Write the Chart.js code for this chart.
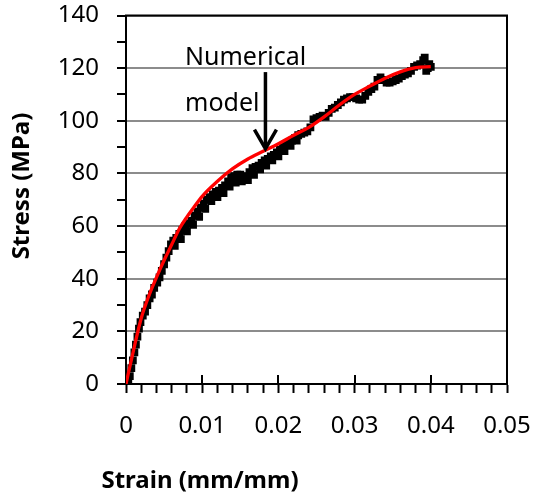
<!DOCTYPE html>
<html>
<head>
<meta charset="utf-8">
<script src="https://cdn.jsdelivr.net/npm/chart.js@4.4.0/dist/chart.umd.min.js"></script>
<style>
  html, body { margin: 0; padding: 0; background: #fff; }
  #wrap { width: 533px; height: 497px; }
</style>
</head>
<body>
<div id="wrap"><canvas id="myChart" width="533" height="497"></canvas></div>
<script>
// numerical model (red line)
const modelStrain = [0, 0.001, 0.002, 0.003, 0.004, 0.005, 0.006, 0.007, 0.008, 0.009, 0.010,
  0.012, 0.014, 0.016, 0.018, 0.020, 0.022, 0.024, 0.026, 0.028, 0.030,
  0.032, 0.034, 0.036, 0.038, 0.040];
const modelStress = [0, 13, 25, 33.5, 40.5, 47, 53, 59, 63.5, 67.5, 71.3,
  77, 81.8, 85.5, 88.4, 91.3, 94.5, 97.5, 101.5, 106, 110,
  113.2, 116.2, 118.6, 120.2, 120.6];

// experiment (black squares)
const expStrain = [0.0003, 0.0005, 0.0007, 0.0009, 0.0011, 0.0013, 0.0015, 0.0017, 0.0019, 0.0022,
  0.0025, 0.0028, 0.0031, 0.0034, 0.0037, 0.0041, 0.0044, 0.0047, 0.0050, 0.0053,
  0.0056, 0.0059, 0.0062, 0.0064, 0.0066, 0.0070, 0.0072, 0.0074, 0.0078, 0.0080,
  0.0082, 0.0086, 0.0088, 0.0090, 0.0094, 0.0096, 0.0098, 0.0102, 0.0104, 0.0106,
  0.0110, 0.0112, 0.0114, 0.0118, 0.0120, 0.0122, 0.0126, 0.0128, 0.0130, 0.0134,
  0.0136, 0.0138, 0.0142, 0.0144, 0.0146, 0.0150, 0.0152, 0.0154, 0.0158, 0.0160,
  0.0162, 0.0166, 0.0168, 0.0170, 0.0174, 0.0176, 0.0178, 0.0182, 0.0184, 0.0186,
  0.0190, 0.0192, 0.0194, 0.0198, 0.0200, 0.0202, 0.0206, 0.0208, 0.0210, 0.0214,
  0.0216, 0.0218, 0.0222, 0.0224, 0.0226, 0.0230, 0.0234, 0.0238, 0.0242, 0.0246,
  0.0250, 0.0254, 0.0258, 0.0262, 0.0266, 0.0270, 0.0274, 0.0278, 0.0282, 0.0286,
  0.0290, 0.0294, 0.0298, 0.0302, 0.0306, 0.0310, 0.0314, 0.0318, 0.0322, 0.0326,
  0.0330, 0.0334, 0.0338, 0.0342, 0.0346, 0.0350, 0.0354, 0.0358, 0.0362, 0.0366,
  0.0370, 0.0374, 0.0378, 0.0382, 0.0386, 0.0390, 0.0392, 0.0394, 0.0396, 0.0398,
  0.0400];
const expStress = [0, 3, 6, 9, 12, 15, 18, 21, 23.5, 26,
  27.5, 30, 32.5, 34, 36.5, 38.5, 40.5, 43, 45.5, 48,
  50.5, 53, 54.5, 52.5, 55.5, 57, 55, 58.5, 60, 58,
  61, 62, 60.5, 64, 65.5, 63.5, 67, 68.5, 66.5, 70,
  71, 69.5, 72, 73, 71, 73.5, 74.5, 72.5, 75.5, 77,
  75, 78.5, 79, 76.5, 79.5, 79.5, 77, 78.5, 79, 77.5,
  80.5, 82, 79.5, 82.5, 83, 81.5, 84, 85, 83, 85.5,
  86.5, 85, 87, 88, 86.5, 89, 90, 88.5, 91, 91.5,
  90.5, 92.5, 93.5, 92.5, 94.5, 95, 95.5, 96, 97.5, 100.5,
  101, 101.5, 102, 101.5, 103, 104.5, 105, 106, 107, 108,
  108.5, 109, 109, 108.5, 108, 108, 109.5, 111, 112, 113,
  115.5, 116.5, 115.5, 114.5, 114.5, 115, 115.5, 116, 117, 117.5,
  118, 119, 120.5, 121, 121.5, 123, 124, 119, 120, 121.5,
  120.5];

// annotation: text and arrow (in data units)
const noteLines = ['Numerical', 'model'];
const arrowStrain = 0.0183;
const arrowFrom = 118.5;
const arrowTo = 89;

const xTitle = 'Strain (mm/mm)';
const yTitle = 'Stress (MPa)';

const FONT = '"Noto Sans", "Open Sans", sans-serif';

const extras = {
  id: 'extras',
  beforeDatasetsDraw(chart) {
    const { ctx, chartArea: a, scales } = chart;
    ctx.save();
    // upper half of the major x ticks
    ctx.strokeStyle = '#000';
    ctx.lineWidth = 2;
    for (let v = 0.01; v < 0.0501; v += 0.01) {
      const px = Math.round(scales.x.getPixelForValue(v));
      ctx.beginPath();
      ctx.moveTo(px, a.bottom);
      ctx.lineTo(px, a.bottom - 9);
      ctx.stroke();
    }
    // frame
    ctx.strokeRect(a.left, a.top, a.right - a.left, a.bottom - a.top);
    ctx.restore();
  },
  afterDraw(chart) {
    const { ctx, scales } = chart;
    ctx.save();
    // note text
    ctx.fillStyle = '#000';
    ctx.font = '25px ' + FONT;
    ctx.textAlign = 'left';
    ctx.textBaseline = 'alphabetic';
    ctx.fillText(noteLines[0], 185, 65);
    ctx.fillText(noteLines[1], 185, 111);
    // arrow
    const ax = scales.x.getPixelForValue(arrowStrain);
    const y0 = scales.y.getPixelForValue(arrowFrom);
    const y1 = scales.y.getPixelForValue(arrowTo);
    ctx.strokeStyle = '#000';
    ctx.lineWidth = 3.5;
    ctx.beginPath();
    ctx.moveTo(ax, y0);
    ctx.lineTo(ax, y1 - 2);
    ctx.stroke();
    ctx.beginPath();
    ctx.moveTo(ax - 11, y1 - 20);
    ctx.lineTo(ax, y1 - 1);
    ctx.lineTo(ax + 11, y1 - 20);
    ctx.stroke();
    // axis titles
    ctx.font = 'bold 24px ' + FONT;
    ctx.textAlign = 'center';
    ctx.textBaseline = 'middle';
    ctx.fillText(xTitle, 200, 481);
    ctx.translate(22, 186);
    ctx.rotate(-Math.PI / 2);
    ctx.fillText(yTitle, 0, 0);
    ctx.restore();
  }
};

function noPad(s) {
  s.paddingTop = 0;
  s.paddingBottom = 0;
  s.paddingLeft = 0;
  s.paddingRight = 0;
}

const data = {
  datasets: [
    {
      label: 'Numerical model',
      data: modelStrain.map((x, i) => ({ x: x, y: modelStress[i] })),
      showLine: true,
      borderColor: '#ff0000',
      borderWidth: 3.3,
      pointRadius: 0,
      cubicInterpolationMode: 'monotone',
      order: 0
    },
    {
      label: 'Experiment',
      data: expStrain.map((x, i) => ({ x: x, y: expStress[i] })),
      showLine: false,
      pointStyle: 'rect',
      pointRadius: 5.5,
      backgroundColor: '#000',
      borderColor: '#000',
      borderWidth: 0,
      order: 1
    }
  ]
};

const config = {
  type: 'scatter',
  data: data,
  options: {
    responsive: false,
    animation: false,
    layout: { padding: { left: 0, right: 26, top: 15.5, bottom: 0 } },
    plugins: {
      legend: { display: false },
      tooltip: { enabled: false }
    },
    scales: {
      x: {
        type: 'linear',
        min: 0,
        max: 0.05,
        afterFit: s => { s.height = 113; noPad(s); },
        afterBuildTicks: s => {
          s.ticks = [];
          for (let i = 0; i <= 25; i++) s.ticks.push({ value: i * 0.002 });
        },
        ticks: {
          color: '#000',
          font: { family: FONT, size: 24 },
          padding: 19,
          maxRotation: 0,
          autoSkip: false,
          callback: v => {
            const r = Math.round(v * 100);
            return Math.abs(v * 100 - r) < 1e-6 ? String(r / 100) : '';
          }
        },
        grid: {
          drawOnChartArea: false,
          tickColor: '#000',
          tickWidth: 2,
          tickLength: 9
        },
        border: { color: '#000', width: 2 }
      },
      y: {
        min: 0,
        max: 140,
        afterFit: s => { s.width = 126; noPad(s); },
        ticks: {
          stepSize: 10,
          color: '#000',
          font: { family: FONT, size: 24 },
          padding: 18,
          autoSkip: false,
          callback: v => (v % 20 === 0 ? String(v) : '')
        },
        grid: {
          color: c => (c.tick && c.tick.value % 20 === 0 ? '#8c8c8c' : 'rgba(0,0,0,0)'),
          lineWidth: 2,
          tickColor: '#000',
          tickWidth: 2,
          tickLength: 9
        },
        border: { color: '#000', width: 2 }
      }
    }
  },
  plugins: [extras]
};

const myChart = new Chart(document.getElementById('myChart'), config);
</script>
</body>
</html>
